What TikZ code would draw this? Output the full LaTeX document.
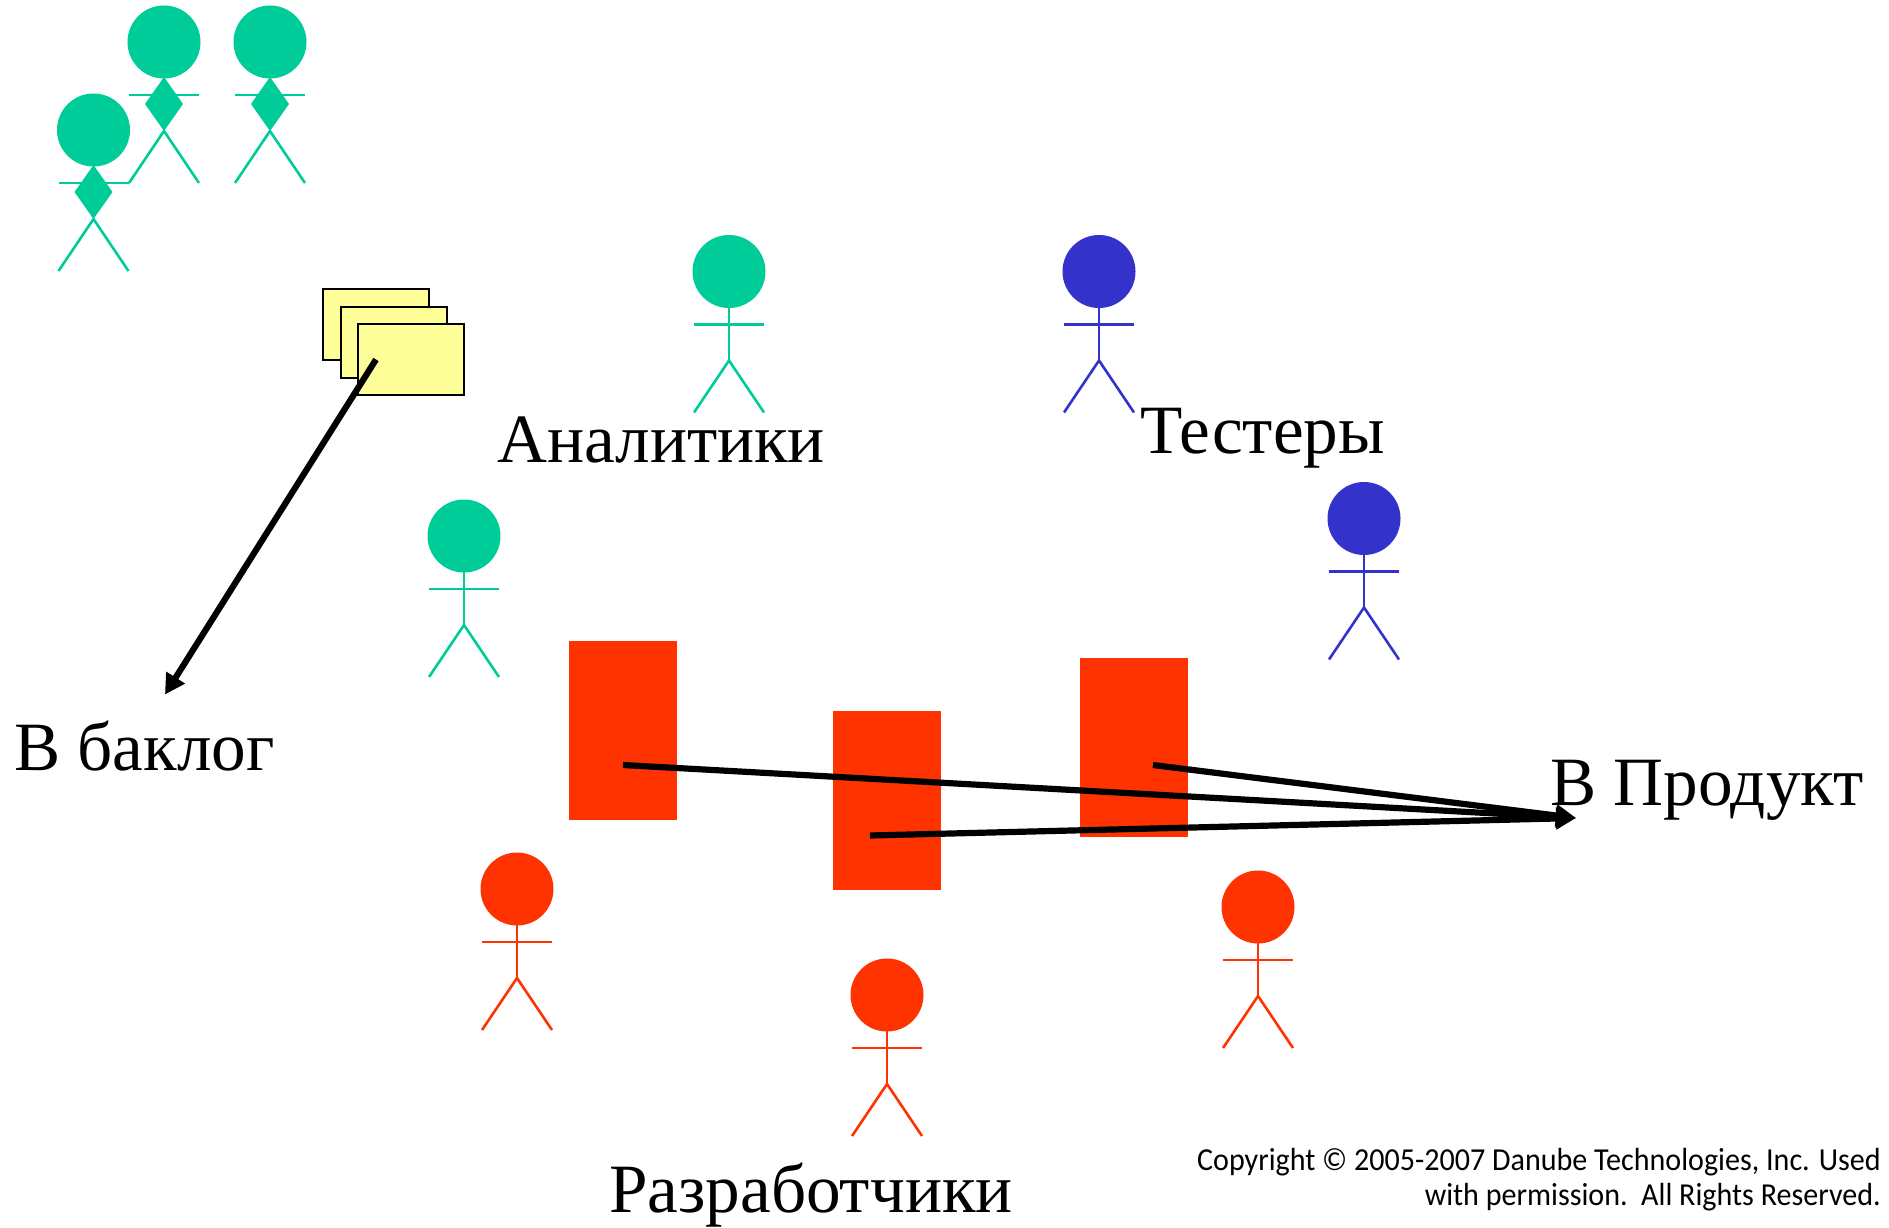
\documentclass[tikz,border=0pt]{standalone}
\usepackage{fontspec}
\setmainfont{Liberation Serif}
\newfontfamily\copyfont[FakeStretch=0.94]{Carlito}
\usetikzlibrary{arrows.meta}
\definecolor{grn}{HTML}{00CC99}
\definecolor{blu}{HTML}{3333CC}
\definecolor{rd}{HTML}{FF3300}
\definecolor{ylw}{HTML}{FFFF99}
\tikzset{
  x=1pt,y=-1pt,
  head/.style={circle,minimum size=73pt,inner sep=0pt,draw=none},
  limb/.style={line width=2.6pt},
  pics/person/.style={code={
    \node[head,fill=#1] (-head) at (0,0) {};
    \draw[limb,draw=#1] (-35,53) -- (35,53);
    \draw[limb,draw=#1] (0,36) -- (0,89);
    \draw[limb,draw=#1] (-35,141) -- (0,89) -- (35,141);
  }},
  pics/leader/.style={code={
    \node[head,fill=#1] (-head) at (0,0) {};
    \draw[limb,draw=#1] (-35,53) -- (35,53);
    \fill[#1] (0,35) -- (19,62) -- (0,89) -- (-19,62) -- cycle;
    \draw[limb,draw=#1] (-35,141) -- (0,89) -- (35,141);
  }},
  card/.style={draw=black,line width=2pt,fill=ylw,minimum width=106pt,minimum height=71pt,inner sep=0pt},
  task/.style={fill=rd,minimum width=108.5pt,minimum height=179pt,inner sep=0pt},
  flow/.style={line width=6.2pt,draw=black,-{Triangle[length=20pt,width=21pt]}},
  big/.style={font=\fontsize{69.2}{69.2}\selectfont,inner sep=0pt,anchor=base west},
  copyr/.style={font=\copyfont\fontsize{32}{32}\selectfont,inner sep=0pt,anchor=base east},
}
\begin{document}
\begin{tikzpicture}
\useasboundingbox (0,0) rectangle (1889,1228);
% leaders
\pic (l2) at (164,42) {leader=grn};
\pic (l3) at (270,42) {leader=grn};
\pic (l1) at (93.5,130) {leader=grn};
% people
\pic (an1) at (729,271.5) {person=grn};
\pic (an2) at (464,536) {person=grn};
\pic (te1) at (1099,271.5) {person=blu};
\pic (te2) at (1364,518.5) {person=blu};
\pic (de1) at (517,889) {person=rd};
\pic (de2) at (887,995) {person=rd};
\pic (de3) at (1258,907) {person=rd};
% cards
\node[card] (c1) at (375.5,324.5) {};
\node[card] (c2) at (393.5,342) {};
\node[card] (c3) at (411,359.5) {};
% tasks
\node[task] (t1) at (623,730) {};
\node[task] (t2) at (887,800) {};
\node[task] (t3) at (1134,747) {};
% labels
\node[big] (lan) at (497,462.5) {Аналитики};
\node[big] (lte) at (1140,453) {Тестеры};
\node[big] (lba) at (14,770) {В баклог};
\node[big] (lpr) at (1550,805) {В Продукт};
\node[big] (lde) at (609,1212) {Разработчики};
\node[copyr] (cp1) at (1881,1170) {Copyright © 2005-2007 Danube Technologies, Inc. Used};
\node[copyr] (cp2) at (1881,1205.5) {with permission.\ \ All Rights Reserved.};
% connectors
\coordinate (sc) at (376,359.5);
\coordinate (eb) at (165,694.5);
\coordinate (ep) at (1576,818);
\coordinate (s1) at (623,765);
\coordinate (s2) at (870,835.5);
\coordinate (s3) at (1153,765);
\draw[flow] (sc) -- (eb);
\draw[flow] (s1) -- (ep);
\draw[flow] (s2) -- (ep);
\draw[flow] (s3) -- (ep);
\end{tikzpicture}
\end{document}
